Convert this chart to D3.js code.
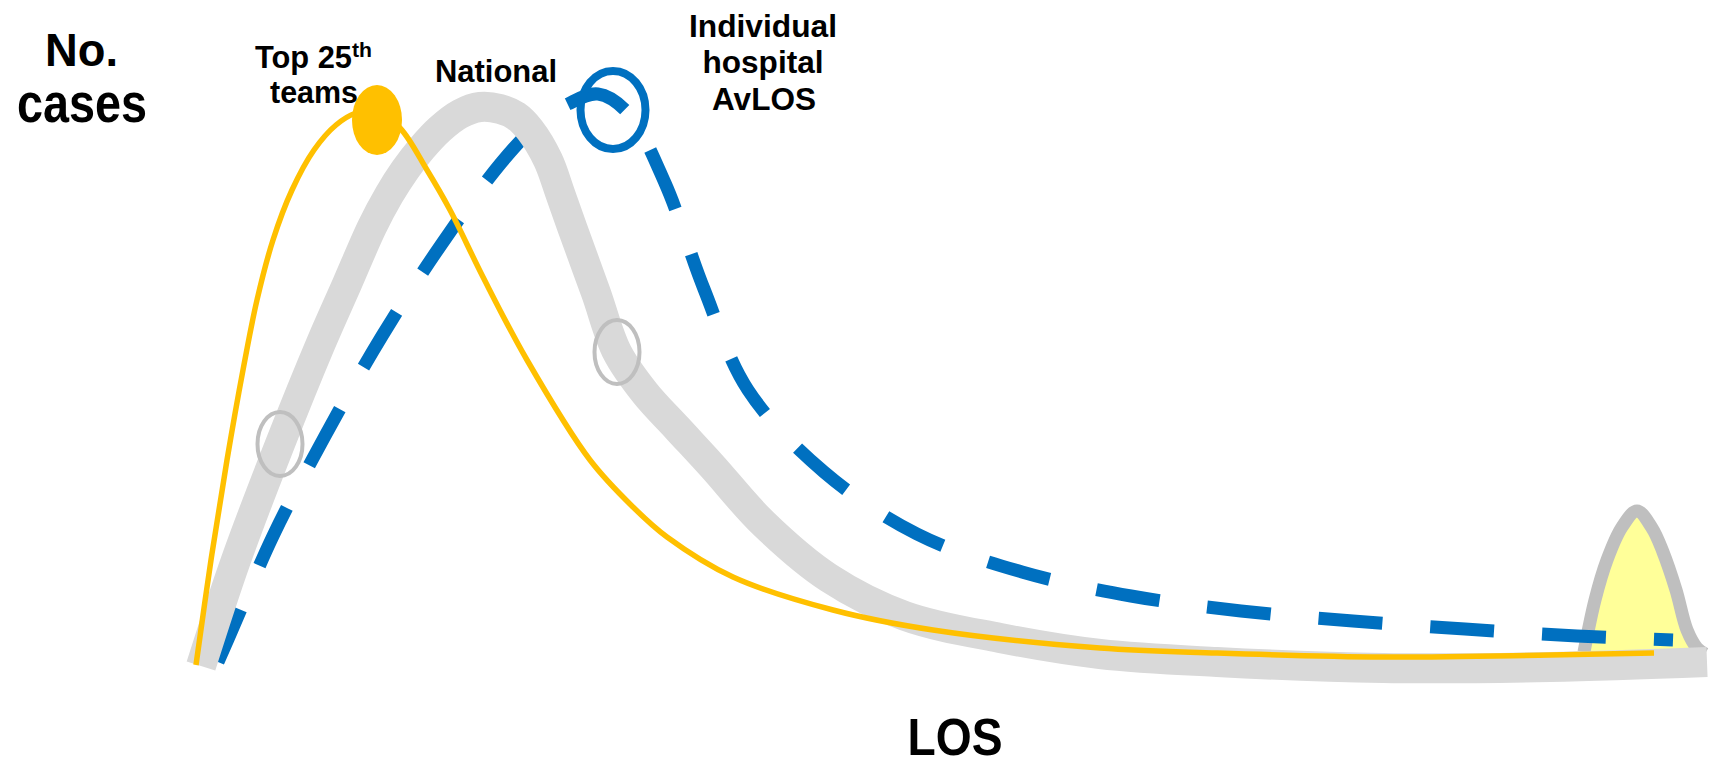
<!DOCTYPE html>
<html>
<head>
<meta charset="utf-8">
<script src="https://cdn.jsdelivr.net/npm/d3@7"></script>
<style>
  html, body { margin: 0; padding: 0; background: #fff; }
  svg { display: block; }
  text { font-family: "Liberation Sans", Arial, sans-serif; font-weight: bold; fill: #000; }
</style>
</head>
<body>
<svg id="chart" width="1710" height="765"></svg>
<script>
// Length-of-stay distributions: [LOS, number of cases]
const nationalCurve = [
  [2.1, 1.4], [5.6, 12.0], [10.0, 23.6], [14.1, 33.7], [16.7, 39.6], [19.2, 45.3],
  [20.9, 48.5], [22.5, 51.0], [24.2, 53.2], [26.0, 55.1], [28.0, 56.6], [30.0, 57.3],
  [32.0, 57.1], [33.6, 56.4], [35.0, 55.0], [36.8, 52.0], [38.0, 48.7], [39.2, 45.3],
  [41.6, 38.7], [43.7, 32.8], [46.5, 28.7], [49.7, 25.2], [53.2, 21.4], [58.3, 15.7],
  [64.9, 10.2], [72.5, 6.4], [82.0, 4.2], [92.0, 2.6], [103.7, 1.8], [120.3, 1.2],
  [137.0, 1.3], [152.7, 1.8]
];
const top25Curve = [
  [1.6, 1.5], [3.1, 12.0], [4.7, 22.0], [6.3, 31.0], [7.7, 38.0], [9.3, 44.0],
  [11.2, 49.0], [13.4, 53.0], [15.6, 55.5], [17.6, 56.7], [19.6, 56.9], [22.0, 55.2],
  [24.7, 51.0], [27.0, 47.0], [30.3, 40.3], [34.7, 32.0], [41.0, 22.0], [45.3, 17.3],
  [48.7, 14.3], [55.3, 10.3], [65.3, 7.0], [75.3, 5.0], [92.0, 3.2], [103.7, 2.7],
  [120.3, 2.3], [137.0, 2.5], [147.4, 2.7]
];
const hospitalCurve = [
  [3.8, 1.8], [5.2, 5.0], [9.3, 14.4], [14.5, 24.4], [20.2, 34.4], [26.1, 43.5],
  [32.1, 51.7], [36.0, 55.8], [38.8, 57.6], [41.8, 58.6], [44.8, 56.7], [48.5, 49.7],
  [52.4, 39.1], [56.8, 29.0], [64.4, 20.8], [73.7, 14.6], [84.2, 10.8], [95.1, 8.4],
  [106.1, 6.9], [117.3, 5.9], [128.5, 5.1], [139.7, 4.4], [149.3, 4.0]
];
// long-stay outlier hump at the far end of the tail
const outlierBump = [
  [140.4, 2.8], [141.5, 8.0], [142.7, 12.0], [144.2, 15.3], [145.7, 16.9], [147.2, 15.2],
  [148.3, 12.8], [149.6, 9.0], [150.7, 5.0], [151.7, 3.2], [152.5, 2.6]
];
// highlighted points on the curves
const nationalMarks = [[10.0, 23.6], [43.7, 32.8]];
const top25Mark = [19.7, 56.0];
const hospitalMark = [43.3, 57.0];

const svg = d3.select("#chart");
const x = d3.scaleLinear().domain([0, 153]).range([180, 1710]);
const y = d3.scaleLinear().domain([0, 68]).range([680, 0]);

const line = d3.line()
  .x(d => x(d[0]))
  .y(d => y(d[1]))
  .curve(d3.curveCatmullRom.alpha(0.5));

// outlier hump
svg.append("path")
  .attr("d", line(outlierBump))
  .attr("fill", "#ffff99")
  .attr("stroke", "#bfbfbf")
  .attr("stroke-width", 13)
  .attr("stroke-linejoin", "round");

// individual hospital (dashed)
svg.append("path")
  .attr("d", line(hospitalCurve))
  .attr("fill", "none")
  .attr("stroke", "#0070c0")
  .attr("stroke-width", 13)
  .attr("stroke-dasharray", "64,48")
  .attr("stroke-dashoffset", 7);

// national distribution
svg.append("path")
  .attr("d", line(nationalCurve))
  .attr("fill", "none")
  .attr("stroke", "#d9d9d9")
  .attr("stroke-width", 30);

// top quartile teams
svg.append("path")
  .attr("d", line(top25Curve))
  .attr("fill", "none")
  .attr("stroke", "#ffc000")
  .attr("stroke-width", 5.5);

// markers
svg.selectAll("ellipse.nat")
  .data(nationalMarks)
  .join("ellipse")
  .attr("class", "nat")
  .attr("cx", d => x(d[0]))
  .attr("cy", d => y(d[1]))
  .attr("rx", 22.5)
  .attr("ry", 32)
  .attr("fill", "none")
  .attr("stroke", "#bfbfbf")
  .attr("stroke-width", 4);

svg.append("ellipse")
  .attr("cx", x(top25Mark[0]))
  .attr("cy", y(top25Mark[1]))
  .attr("rx", 25)
  .attr("ry", 35)
  .attr("fill", "#ffc000");

svg.append("ellipse")
  .attr("cx", x(hospitalMark[0]))
  .attr("cy", y(hospitalMark[1]))
  .attr("rx", 32.5)
  .attr("ry", 39)
  .attr("fill", "none")
  .attr("stroke", "#0070c0")
  .attr("stroke-width", 8);

// labels
function label(txt, px, py, size, width, anchor) {
  svg.append("text")
    .attr("x", px).attr("y", py)
    .attr("font-size", size)
    .attr("text-anchor", anchor || "start")
    .attr("textLength", width)
    .attr("lengthAdjust", "spacingAndGlyphs")
    .text(txt);
}
label("No.", 45, 66, 47, 73);
label("cases", 17, 122, 56, 130);
label("Top 25", 255, 68, 31, 97);
label("th", 352, 57, 20, 20);
label("teams", 314, 103, 31, 88, "middle");
label("National", 435, 82, 32, 122);
label("Individual", 763, 37, 32, 148, "middle");
label("hospital", 763, 73, 32, 121, "middle");
label("AvLOS", 764, 110, 32, 104, "middle");
label("LOS", 955, 755, 51, 95, "middle");
</script>
</body>
</html>
